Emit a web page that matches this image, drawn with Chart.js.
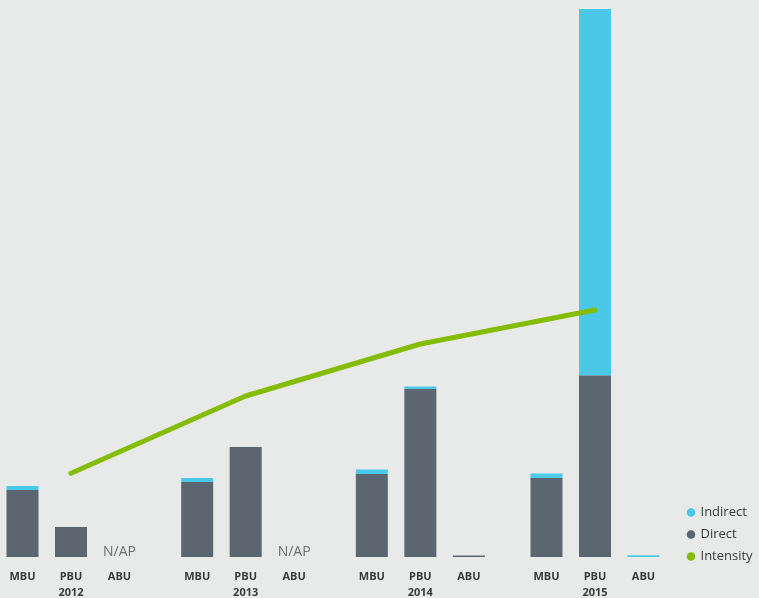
<!DOCTYPE html>
<html><head><meta charset="utf-8">
<script src="https://cdn.jsdelivr.net/npm/chart.js@4/dist/chart.umd.min.js"></script>
<style>html,body{margin:0;padding:0;background:#e8eaea;overflow:hidden}#wrap{width:759px;height:598px;position:relative}</style>
</head><body><div id="wrap"><canvas id="c"></canvas></div>
<script>
const years = ['2012', '2013', '2014', '2015'];
const units = ['MBU', 'PBU', 'ABU'];
const directMBU = [33.5, 37.5, 41.5, 39.5];
const directPBU = [15, 55, 84, 90.7];
const directABU = [null, null, 0.7, 0];
const indirectMBU = [2, 2, 2.2, 2.2];
const indirectPBU = [0, 0, 1.2, 183.3];
const indirectABU = [null, null, 0, 0.9];
const intensity = [41.9, 80.5, 106.5, 123.5];
const abuNotes = ['N/AP', 'N/AP', '', ''];
const legendOrder = ['Indirect', 'Direct', 'Intensity'];

const C_DIRECT = '#5b6670', C_INDIRECT = '#4bc8e8', C_LINE = '#84bd00';
const FONT = '"Open Sans", "DejaVu Sans", sans-serif';

const directSeries = { MBU: directMBU, PBU: directPBU, ABU: directABU };
const indirectSeries = { MBU: indirectMBU, PBU: indirectPBU, ABU: indirectABU };

const datasets = [{
  type: 'line', label: 'Intensity', data: intensity, yAxisID: 'y1',
  borderColor: C_LINE, backgroundColor: C_LINE, borderWidth: 5,
  borderCapStyle: 'round', borderJoinStyle: 'round',
  pointRadius: 0, pointHoverRadius: 0, tension: 0, clip: false
}];
const directIndex = {};
units.forEach(u => {
  directIndex[u] = datasets.length;
  datasets.push({ label: 'Direct', data: directSeries[u], stack: u, backgroundColor: C_DIRECT, borderWidth: 0, clip: false });
  datasets.push({ label: 'Indirect', data: indirectSeries[u], stack: u, backgroundColor: C_INDIRECT, borderWidth: 0, clip: false });
});

const subLabels = {
  id: 'subLabels',
  afterDatasetsDraw(chart) {
    const ctx = chart.ctx, area = chart.chartArea;
    ctx.save();
    ctx.textAlign = 'center';
    ctx.textBaseline = 'middle';
    ctx.font = 'bold 11px ' + FONT;
    ctx.fillStyle = '#3a3a3a';
    units.forEach(u => {
      chart.getDatasetMeta(directIndex[u]).data.forEach(el => ctx.fillText(u, el.x, area.bottom + 20));
    });
    const metaA = chart.getDatasetMeta(directIndex.ABU);
    ctx.font = '14px ' + FONT;
    ctx.fillStyle = '#6e6e6e';
    ctx.textBaseline = 'alphabetic';
    abuNotes.forEach((t, i) => { if (t) ctx.fillText(t, metaA.data[i].x, area.bottom - 1); });
    ctx.restore();
  }
};

new Chart(document.getElementById('c'), {
  type: 'bar',
  data: { labels: years, datasets },
  plugins: [subLabels],
  options: {
    responsive: true, maintainAspectRatio: false, animation: false,
    layout: { padding: { left: 71, top: 9, bottom: 26, right: 0 } },
    datasets: { bar: { categoryPercentage: 0.833, barPercentage: 0.66 } },
    scales: {
      x: {
        stacked: true, offset: false,
        grid: { display: false, drawTicks: false }, border: { display: false },
        ticks: { autoSkip: false, maxRotation: 0, mirror: true, padding: -42, color: '#3a3a3a', font: { family: FONT, size: 11, weight: 'bold' } },
        afterFit: s => { s.height = 15; }
      },
      y: { stacked: true, display: false, min: 0, max: 274 },
      y1: {
        position: 'right', min: 0, max: 274, display: true,
        grid: { display: false, drawTicks: false }, border: { display: false },
        ticks: { display: false },
        afterFit: s => { s.width = 84; }
      }
    },
    plugins: {
      tooltip: { enabled: false },
      legend: {
        position: 'right', align: 'end', maxWidth: 80,
        labels: {
          usePointStyle: true, boxWidth: 6, boxHeight: 6, padding: 9,
          color: '#3a3a3a', font: { family: FONT, size: 13 },
          generateLabels(chart) {
            const base = Chart.defaults.plugins.legend.labels.generateLabels(chart);
            const out = [];
            legendOrder.forEach(name => {
              const it = base.find(b => b.text === name);
              if (it) { it.lineWidth = 0; it.pointStyle = 'circle'; it.strokeStyle = it.fillStyle; out.push(it); }
            });
            return out;
          }
        }
      }
    }
  }
});
</script></body></html>
